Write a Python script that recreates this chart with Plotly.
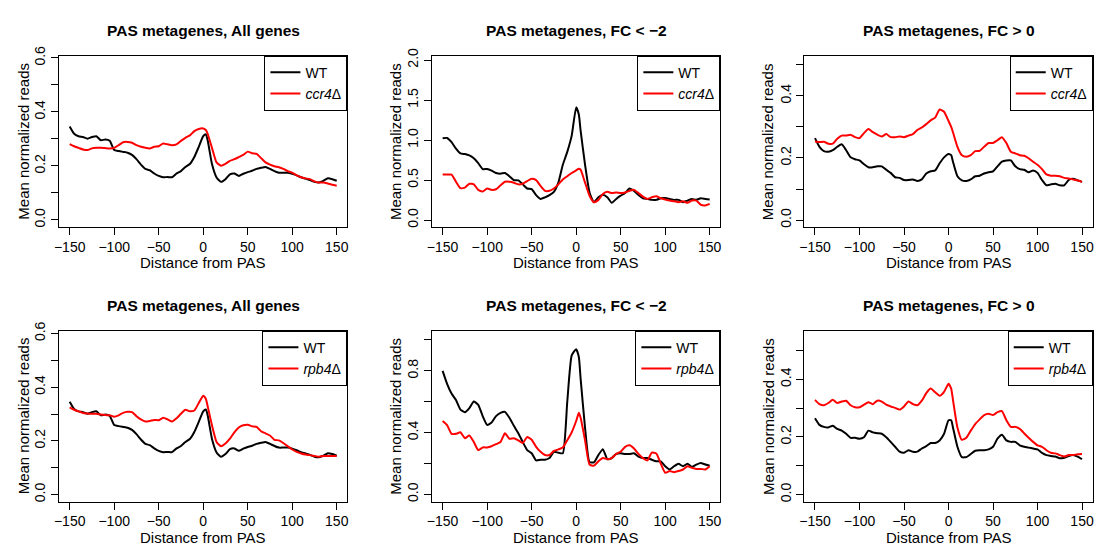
import plotly.graph_objects as go

# ---------------- data ----------------
distance = list(range(-150, 0, 5)) + [0, 3] + list(range(5, 151, 5))

titles = ["PAS metagenes, All genes", "PAS metagenes, FC < \u22122", "PAS metagenes, FC > 0",
          "PAS metagenes, All genes", "PAS metagenes, FC < \u22122", "PAS metagenes, FC > 0"]
mutant_labels = ["<i>ccr4</i>\u0394", "<i>rpb4</i>\u0394"]

wt_all = [0.346, 0.319, 0.310, 0.307, 0.301, 0.307, 0.310, 0.295, 0.298, 0.293,
          0.259, 0.255, 0.252, 0.249, 0.241, 0.225, 0.205, 0.189, 0.184, 0.172,
          0.163, 0.158, 0.159, 0.158, 0.172, 0.181, 0.196, 0.207, 0.233, 0.271,
          0.310, 0.317,
          0.295, 0.205, 0.157, 0.141, 0.151, 0.169, 0.172, 0.163, 0.171, 0.177,
          0.182, 0.189, 0.193, 0.196, 0.189, 0.181, 0.175, 0.175, 0.175, 0.171,
          0.165, 0.158, 0.153, 0.148, 0.141, 0.139, 0.145, 0.154, 0.151, 0.145]

ccr4_all = [0.281, 0.273, 0.267, 0.261, 0.259, 0.265, 0.267, 0.267, 0.266, 0.265,
            0.267, 0.277, 0.288, 0.289, 0.286, 0.277, 0.271, 0.267, 0.265, 0.271,
            0.273, 0.283, 0.280, 0.277, 0.280, 0.293, 0.304, 0.313, 0.329, 0.337,
            0.339, 0.333,
            0.319, 0.265, 0.213, 0.201, 0.208, 0.219, 0.225, 0.233, 0.241, 0.253,
            0.247, 0.245, 0.229, 0.213, 0.205, 0.199, 0.195, 0.189, 0.181, 0.175,
            0.165, 0.158, 0.154, 0.151, 0.143, 0.139, 0.139, 0.135, 0.130, 0.127]

wt_down_ccr4 = [1.022, 1.026, 0.974, 0.892, 0.832, 0.824, 0.807, 0.771, 0.710, 0.637,
                0.637, 0.617, 0.588, 0.580, 0.588, 0.548, 0.499, 0.495, 0.446, 0.394,
                0.385, 0.312, 0.264, 0.284, 0.312, 0.353, 0.467, 0.690, 0.852, 1.055,
                1.408, 1.318,
                1.116, 0.690, 0.345, 0.223, 0.284, 0.316, 0.284, 0.215, 0.264, 0.304,
                0.337, 0.394, 0.365, 0.312, 0.272, 0.264, 0.252, 0.252, 0.272, 0.276,
                0.264, 0.252, 0.252, 0.223, 0.243, 0.264, 0.252, 0.272, 0.264, 0.256]

ccr4_down = [0.568, 0.568, 0.568, 0.479, 0.398, 0.406, 0.454, 0.446, 0.377, 0.357,
             0.394, 0.377, 0.385, 0.434, 0.479, 0.479, 0.467, 0.446, 0.454, 0.487,
             0.515, 0.499, 0.426, 0.365, 0.365, 0.394, 0.446, 0.507, 0.548, 0.588,
             0.621, 0.641,
             0.629, 0.467, 0.304, 0.223, 0.252, 0.325, 0.353, 0.337, 0.345, 0.337,
             0.345, 0.365, 0.377, 0.337, 0.292, 0.264, 0.284, 0.296, 0.272, 0.256,
             0.243, 0.235, 0.223, 0.235, 0.215, 0.243, 0.243, 0.191, 0.183, 0.203]

wt_up_ccr4 = [0.264, 0.236, 0.222, 0.220, 0.225, 0.236, 0.244, 0.225, 0.202, 0.196,
              0.192, 0.180, 0.170, 0.170, 0.173, 0.173, 0.162, 0.152, 0.138, 0.136,
              0.129, 0.129, 0.131, 0.126, 0.131, 0.150, 0.157, 0.160, 0.183, 0.202,
              0.213, 0.209,
              0.188, 0.141, 0.128, 0.126, 0.131, 0.141, 0.143, 0.150, 0.154, 0.157,
              0.173, 0.188, 0.192, 0.192, 0.173, 0.164, 0.162, 0.154, 0.160, 0.152,
              0.129, 0.112, 0.115, 0.117, 0.112, 0.112, 0.129, 0.133, 0.128, 0.123]

ccr4_up = [0.253, 0.251, 0.252, 0.246, 0.246, 0.262, 0.272, 0.272, 0.275, 0.267,
           0.264, 0.280, 0.293, 0.283, 0.275, 0.269, 0.277, 0.267, 0.267, 0.269,
           0.267, 0.272, 0.277, 0.290, 0.298, 0.309, 0.321, 0.330, 0.356, 0.349,
           0.319, 0.300,
           0.283, 0.236, 0.209, 0.204, 0.209, 0.222, 0.223, 0.236, 0.248, 0.248,
           0.257, 0.267, 0.248, 0.220, 0.215, 0.209, 0.207, 0.199, 0.188, 0.178,
           0.164, 0.147, 0.143, 0.143, 0.141, 0.136, 0.134, 0.131, 0.128, 0.123]

rpb4_all = [0.325, 0.316, 0.310, 0.304, 0.302, 0.301, 0.301, 0.298, 0.296, 0.295,
            0.290, 0.295, 0.304, 0.308, 0.307, 0.292, 0.280, 0.272, 0.274, 0.278,
            0.277, 0.286, 0.280, 0.272, 0.284, 0.301, 0.316, 0.310, 0.313, 0.341,
            0.368, 0.356,
            0.329, 0.256, 0.196, 0.180, 0.190, 0.208, 0.232, 0.250, 0.258, 0.260,
            0.254, 0.252, 0.236, 0.228, 0.220, 0.204, 0.202, 0.192, 0.180, 0.168,
            0.159, 0.153, 0.149, 0.147, 0.144, 0.141, 0.144, 0.144, 0.144, 0.144]

wt_down_rpb4 = [0.800, 0.716, 0.653, 0.611, 0.549, 0.532, 0.559, 0.601, 0.580, 0.507,
                0.450, 0.465, 0.507, 0.528, 0.534, 0.496, 0.444, 0.396, 0.339, 0.287,
                0.266, 0.220, 0.224, 0.224, 0.235, 0.276, 0.270, 0.266, 0.600, 0.900,
                0.940, 0.890,
                0.750, 0.430, 0.210, 0.207, 0.255, 0.293, 0.228, 0.235, 0.262, 0.266,
                0.262, 0.262, 0.266, 0.245, 0.235, 0.235, 0.224, 0.214, 0.214, 0.182,
                0.161, 0.182, 0.199, 0.182, 0.199, 0.178, 0.193, 0.203, 0.193, 0.186]

rpb4_down = [0.475, 0.448, 0.392, 0.392, 0.402, 0.364, 0.381, 0.339, 0.287, 0.304,
             0.304, 0.312, 0.325, 0.339, 0.396, 0.360, 0.364, 0.350, 0.333, 0.371,
             0.354, 0.308, 0.276, 0.255, 0.255, 0.281, 0.291, 0.304, 0.350, 0.402,
             0.475, 0.528,
             0.496, 0.350, 0.193, 0.186, 0.214, 0.235, 0.228, 0.235, 0.262, 0.276,
             0.308, 0.318, 0.297, 0.262, 0.235, 0.220, 0.270, 0.265, 0.200, 0.140,
             0.151, 0.144, 0.151, 0.161, 0.182, 0.172, 0.165, 0.165, 0.161, 0.182]

wt_up_rpb4 = [0.265, 0.242, 0.235, 0.233, 0.239, 0.228, 0.222, 0.211, 0.197, 0.197,
              0.194, 0.199, 0.222, 0.216, 0.213, 0.211, 0.199, 0.183, 0.166, 0.149,
              0.145, 0.154, 0.149, 0.149, 0.160, 0.168, 0.179, 0.179, 0.188, 0.211,
              0.258, 0.258,
              0.233, 0.166, 0.130, 0.130, 0.141, 0.152, 0.154, 0.154, 0.157, 0.166,
              0.194, 0.208, 0.188, 0.183, 0.183, 0.171, 0.166, 0.163, 0.160, 0.157,
              0.145, 0.137, 0.134, 0.132, 0.126, 0.128, 0.134, 0.137, 0.132, 0.123]

rpb4_up = [0.329, 0.314, 0.310, 0.318, 0.329, 0.318, 0.323, 0.326, 0.310, 0.303,
           0.303, 0.312, 0.321, 0.314, 0.326, 0.323, 0.312, 0.306, 0.301, 0.295,
           0.306, 0.323, 0.314, 0.310, 0.326, 0.352, 0.368, 0.355, 0.343, 0.357,
           0.385, 0.368,
           0.329, 0.233, 0.190, 0.197, 0.222, 0.245, 0.261, 0.276, 0.281, 0.276,
           0.286, 0.290, 0.258, 0.235, 0.235, 0.228, 0.213, 0.197, 0.183, 0.171,
           0.166, 0.154, 0.145, 0.143, 0.137, 0.132, 0.137, 0.137, 0.140, 0.141]

wt_series = [wt_all, wt_down_ccr4, wt_up_ccr4, wt_all, wt_down_rpb4, wt_up_rpb4]
mut_series = [ccr4_all, ccr4_down, ccr4_up, rpb4_all, rpb4_down, rpb4_up]

x_ticks = [-150, -100, -50, 0, 50, 100, 150]
x_ticktext = ["\u2212150", "\u2212100", "\u221250", "0", "50", "100", "150"]
y_tickvals = [
    [0.0, 0.1, 0.2, 0.3, 0.4, 0.5, 0.6],
    [0.0, 0.5, 1.0, 1.5, 2.0],
    [0.0, 0.1, 0.2, 0.3, 0.4, 0.5],
    [0.0, 0.1, 0.2, 0.3, 0.4, 0.5, 0.6],
    [0.0, 0.2, 0.4, 0.6, 0.8, 1.0],
    [0.0, 0.1, 0.2, 0.3, 0.4, 0.5],
]
y_ticktext = [
    ["0.0", "", "0.2", "", "0.4", "", "0.6"],
    ["0.0", "0.5", "1.0", "1.5", "2.0"],
    ["0.0", "", "0.2", "", "0.4", ""],
    ["0.0", "", "0.2", "", "0.4", "", "0.6"],
    ["0.0", "", "0.4", "", "0.8", ""],
    ["0.0", "", "0.2", "", "0.4", ""],
]
y_ranges = [[-0.027, 0.608], [-0.09, 2.053], [-0.023, 0.529],
            [-0.026, 0.610], [-0.047, 1.060], [-0.0245, 0.569]]

# ---------------- layout geometry ----------------
W, H = 1098, 547
col_px = [(54.3, 344.3), (429.3, 719.3), (803.7, 1093.7)]
row_px = [(46.7, 221.7), (327.3, 501.7)]
FONT = "Liberation Sans, Arial, Helvetica, sans-serif"

fig = go.Figure()
layout = dict(
    width=W, height=H, margin=dict(l=0, r=0, t=0, b=0),
    paper_bgcolor="white", plot_bgcolor="white",
    font=dict(family=FONT, color="black"),
    annotations=[],
)

for i in range(6):
    r, c = divmod(i, 3)
    n = "" if i == 0 else str(i + 1)
    xd = [col_px[c][0] / W, col_px[c][1] / W]
    yd = [1 - row_px[r][1] / H, 1 - row_px[r][0] / H]
    leg = "legend" + n
    fig.add_trace(go.Scatter(x=distance, y=wt_series[i], mode="lines", name="WT",
                             line=dict(color="black", width=2, shape="spline", smoothing=0.5),
                             xaxis="x" + n, yaxis="y" + n, legend=leg))
    fig.add_trace(go.Scatter(x=distance, y=mut_series[i], mode="lines", name=mutant_labels[r],
                             line=dict(color="#ff0000", width=2, shape="spline", smoothing=0.5),
                             xaxis="x" + n, yaxis="y" + n, legend=leg))
    common = dict(showline=True, mirror=True, linecolor="black", linewidth=1,
                  ticks="outside", ticklen=7, tickwidth=1, tickcolor="black",
                  showgrid=False, zeroline=False,
                  tickfont=dict(size=14, family=FONT, color="black"))
    layout["xaxis" + n] = dict(domain=xd, range=[-162, 162], tickvals=x_ticks,
                               ticktext=x_ticktext, anchor="y" + n, **common)
    layout["yaxis" + n] = dict(domain=yd, range=y_ranges[i], tickvals=y_tickvals[i],
                               ticktext=y_ticktext[i], tickangle=-90,
                               anchor="x" + n, **common)
    layout[leg] = dict(x=xd[1], y=yd[1], xanchor="right", yanchor="top",
                       xref="paper", yref="paper",
                       bgcolor="white", bordercolor="black", borderwidth=1,
                       font=dict(size=14, family=FONT, color="black"),
                       itemwidth=30, tracegroupgap=0)
    cx = (xd[0] + xd[1]) / 2
    title_y = [21, 302][r]
    layout["annotations"].append(dict(
        text="<b>" + titles[i] + "</b>", x=cx, y=1 - title_y / H, xref="paper", yref="paper",
        xanchor="center", yanchor="middle", showarrow=False,
        font=dict(size=15.5, family=FONT, color="black")))
    xt_y = [258, 538][r]
    layout["annotations"].append(dict(
        text="Distance from PAS", x=cx, y=1 - xt_y / H, xref="paper", yref="paper",
        xanchor="center", yanchor="middle", showarrow=False,
        font=dict(size=15, family=FONT, color="black")))
    yt_x = [18.3, 392.7, 767.0][c]
    layout["annotations"].append(dict(
        text="Mean normalized reads", x=yt_x / W, y=(yd[0] + yd[1]) / 2, xref="paper", yref="paper",
        xanchor="center", yanchor="middle", showarrow=False, textangle=-90,
        font=dict(size=15, family=FONT, color="black")))

fig.update_layout(**layout)
fig.write_html("out.html")
